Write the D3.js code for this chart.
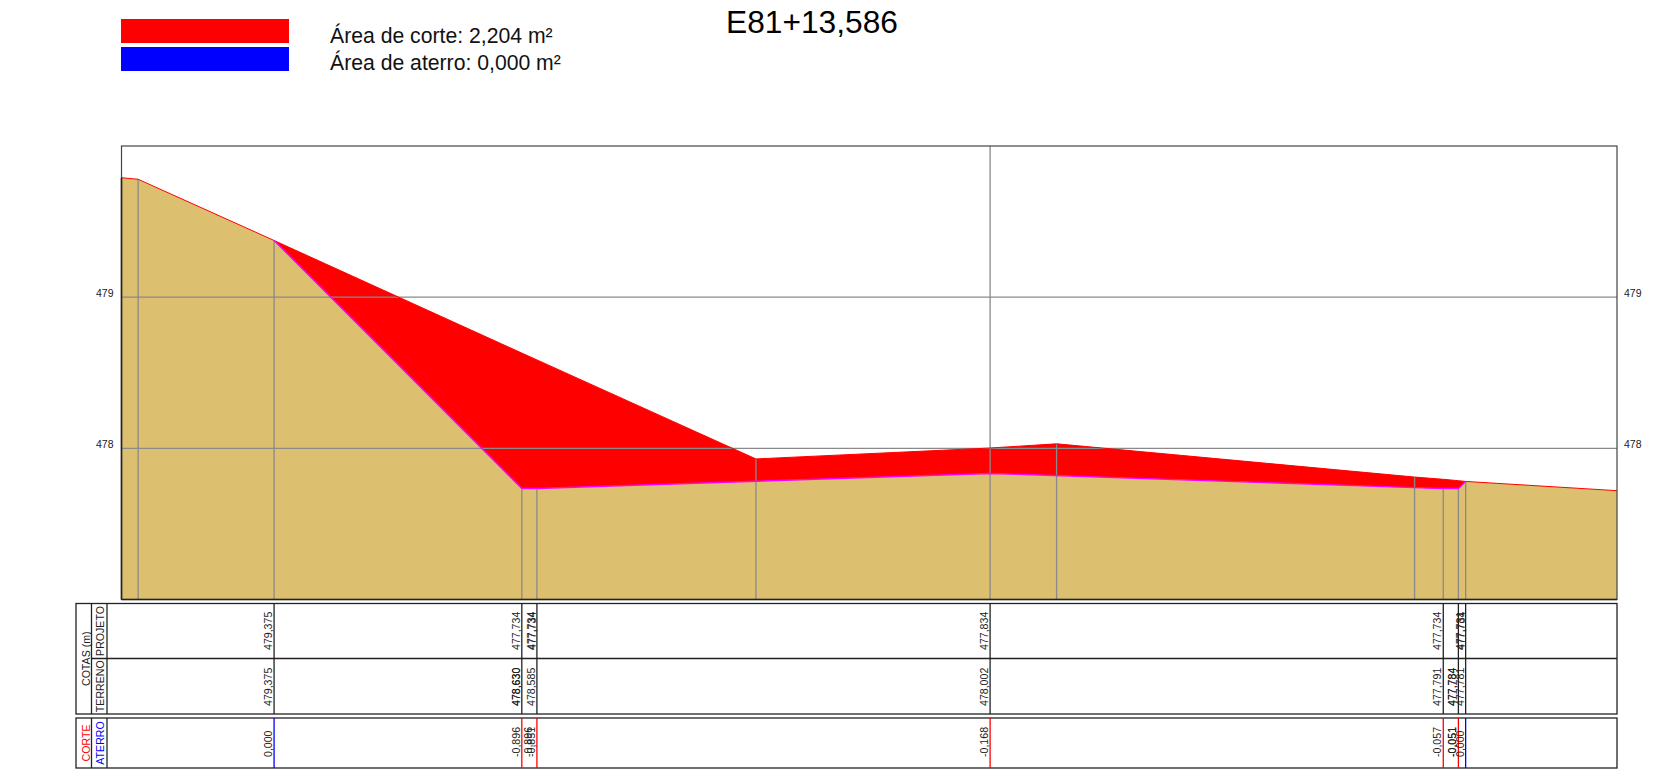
<!DOCTYPE html>
<html>
<head>
<meta charset="utf-8">
<style>
  html, body { margin: 0; background: #fff; }
  svg { display: block; }
  text { font-family: "Liberation Sans", Arial, sans-serif; }
</style>
<script src="https://cdn.jsdelivr.net/npm/d3@7"></script>
</head>
<body>
<svg id="chart"></svg>
<script>
const estaca = "E81+13,586";
const legendRows = ["Área de corte: 2,204 m²", "Área de aterro: 0,000 m²"];
const legendColors = ["#ff0000", "#0000ff"];
const yTicks = [478, 479];

// terrain and project polylines (offset m, elevation m)
const terrainX = [-5.75, -5.64, -4.74, -3.10, -3.00, -1.55, 0, 0.44, 2.81, 3.00, 3.10, 3.148, 4.15];
const terrainY = [479.79, 479.78, 479.375, 478.63, 478.585, 477.93, 478.002, 478.03, 477.81, 477.795, 477.786, 477.781, 477.72];
const projectX = [-4.74, -3.10, -3.00, 0, 2.81, 3.00, 3.10, 3.148];
const projectY = [479.375, 477.734, 477.734, 477.834, 477.74, 477.734, 477.734, 477.781];

// vertical marks in the section
const vertX = [-5.64, -4.74, -3.10, -3.00, -1.55, 0.44, 2.81, 3.00, 3.10, 3.148];
const vertTop = [479.78, 479.375, 477.734, 477.734, 477.93, 478.03, 477.81, 477.734, 477.734, 477.781];
const centerX = 0;

// table rows
const tableX = [-4.74, -3.10, -3.00, 0, 3.00, 3.10, 3.148];
const tableColors = ["#0000ff", "#ff0000", "#ff0000", "#ff0000", "#ff0000", "#ff0000", "#0000ff"];
const projetoX = [-4.74, -3.10, -3.00, -2.995, 0, 3.00, 3.148, 3.155];
const projetoLabels = ["479,375", "477,734", "477,734", "477,734", "477,834", "477,734", "477,781", "477,734"];
const terrenoX = [-4.74, -3.10, -3.10, -3.00, 0, 3.00, 3.10, 3.10, 3.148];
const terrenoLabels = ["479,375", "478,630", "478,630", "478,585", "478,002", "477,791", "477,784", "477,784", "477,781"];
const corteX = [-4.74, -3.10, -3.02, -3.00, 0, 3.00, 3.10, 3.10, 3.148];
const corteLabels = ["0,000", "-0,896", "-0,896", "-0,851", "-0,168", "-0,057", "-0,051", "-0,051", "0,000"];

const width = 1673, height = 773;
const plot = { left: 121.5, right: 1617, top: 146, bottom: 599.5 };
const box1 = { left: 76, right: 1617, top: 603.5, mid: 658.5, bottom: 714 };
const box2 = { left: 76, right: 1617, top: 718, bottom: 768 };
const col1 = 91.5, col2 = 107;
const gray = "#8a8a8a", dark = "#222";

const x = d3.scaleLinear().domain([-5.75, 4.15]).range([plot.left, plot.right]);
const y = d3.scaleLinear().domain([477, 480]).range([plot.bottom, plot.top]);

const svg = d3.select("#chart").attr("width", width).attr("height", height);
const line = d3.line().x((d) => x(d[0])).y((d) => y(d[1]));

const terrain = terrainX.map((v, i) => [v, terrainY[i]]);
const project = projectX.map((v, i) => [v, projectY[i]]);

// ground = terrain outside the cut, project inside it
const ground = [
  ...terrain.filter((d) => d[0] < projectX[0]),
  ...project,
  ...terrain.filter((d) => d[0] > projectX[projectX.length - 1]),
];
const cutTop = terrain.filter((d) => d[0] >= projectX[0] && d[0] <= projectX[projectX.length - 1]);

svg.append("path")
  .attr("d", d3.area().x((d) => x(d[0])).y0(plot.bottom).y1((d) => y(d[1]))(ground))
  .attr("fill", "#dcc06f");

svg.append("path")
  .attr("d", line([...cutTop, ...project.slice().reverse()]) + "Z")
  .attr("fill", "#ff0000");

svg.append("g")
  .selectAll("line")
  .data(vertX)
  .join("line")
  .attr("x1", (d) => x(d))
  .attr("x2", (d) => x(d))
  .attr("y1", plot.bottom)
  .attr("y2", (d, i) => y(vertTop[i]))
  .attr("stroke", gray)
  .attr("stroke-width", 1.3);

svg.append("line")
  .attr("x1", x(centerX)).attr("x2", x(centerX))
  .attr("y1", plot.top).attr("y2", plot.bottom)
  .attr("stroke", gray)
  .attr("stroke-width", 1.3);

svg.append("g")
  .selectAll("line")
  .data(yTicks)
  .join("line")
  .attr("x1", plot.left).attr("x2", plot.right)
  .attr("y1", (d) => y(d)).attr("y2", (d) => y(d))
  .attr("stroke", gray)
  .attr("stroke-width", 1.2);

svg.append("path").attr("d", line(terrain)).attr("fill", "none").attr("stroke", "#ff0000").attr("stroke-width", 1);
svg.append("path").attr("d", line(project)).attr("fill", "none").attr("stroke", "#ff00ff").attr("stroke-width", 1.4);

svg.append("rect")
  .attr("x", plot.left).attr("y", plot.top)
  .attr("width", plot.right - plot.left).attr("height", plot.bottom - plot.top)
  .attr("fill", "none").attr("stroke", "#444").attr("stroke-width", 1.2);
svg.append("line")
  .attr("x1", plot.left).attr("x2", plot.right)
  .attr("y1", plot.bottom).attr("y2", plot.bottom)
  .attr("stroke", dark).attr("stroke-width", 1.6);
svg.append("line")
  .attr("x1", plot.left).attr("x2", plot.left)
  .attr("y1", y(terrainY[0])).attr("y2", plot.bottom)
  .attr("stroke", dark).attr("stroke-width", 1.6);

// y labels both sides
const fmt = (d) => d3.format("d")(d);
[[d3.axisLeft(y), plot.left - 2], [d3.axisRight(y), plot.right + 1]].forEach(([axis, px]) => {
  const g = svg.append("g")
    .attr("transform", `translate(${px},-4.5)`)
    .call(axis.tickValues(yTicks).tickFormat(fmt).tickSize(0).tickPadding(6));
  g.select(".domain").remove();
  g.selectAll("text")
    .attr("font-family", '"Liberation Sans", Arial, sans-serif')
    .attr("font-size", 10.5)
    .attr("fill", "#222");
});

// header
svg.append("text")
  .attr("x", 812).attr("y", 33)
  .attr("text-anchor", "middle")
  .attr("font-size", 31.7)
  .attr("fill", "#000")
  .text(estaca);

svg.append("g")
  .selectAll("rect")
  .data(legendColors)
  .join("rect")
  .attr("x", 121).attr("y", (d, i) => 19 + i * 28)
  .attr("width", 168).attr("height", 24)
  .attr("fill", (d) => d);

svg.append("g")
  .selectAll("text")
  .data(legendRows)
  .join("text")
  .attr("x", 330).attr("y", (d, i) => 43 + i * 27)
  .attr("font-size", 21.2)
  .attr("fill", "#111")
  .text((d) => d);

// table frames
const frame = svg.append("g").attr("fill", "none").attr("stroke", dark).attr("stroke-width", 1.3);
[box1, box2].forEach((b) => {
  frame.append("rect")
    .attr("x", b.left).attr("y", b.top)
    .attr("width", b.right - b.left).attr("height", b.bottom - b.top);
  [col1, col2].forEach((c) => {
    frame.append("line").attr("x1", c).attr("x2", c).attr("y1", b.top).attr("y2", b.bottom);
  });
});
frame.append("line")
  .attr("x1", col1).attr("x2", box1.right)
  .attr("y1", box1.mid).attr("y2", box1.mid);

svg.append("g")
  .selectAll("line")
  .data(tableX)
  .join("line")
  .attr("x1", (d) => x(d)).attr("x2", (d) => x(d))
  .attr("y1", box1.top).attr("y2", box1.bottom)
  .attr("stroke", dark)
  .attr("stroke-width", 1.3);

svg.append("g")
  .selectAll("line")
  .data(tableX)
  .join("line")
  .attr("x1", (d) => x(d)).attr("x2", (d) => x(d))
  .attr("y1", box2.top).attr("y2", box2.bottom)
  .attr("stroke", (d, i) => tableColors[i])
  .attr("stroke-width", 1.3);

const rowHeaders = [
  ["COTAS (m)", 90, (box1.top + box1.bottom) / 2, "#222"],
  ["PROJETO", 103.5, (box1.top + box1.mid) / 2, "#222"],
  ["TERRENO", 103.5, (box1.mid + box1.bottom) / 2, "#222"],
  ["CORTE", 90, (box2.top + box2.bottom) / 2, "#ff0000"],
  ["ATERRO", 103.5, (box2.top + box2.bottom) / 2, "#0000ff"],
];
svg.append("g")
  .selectAll("text")
  .data(rowHeaders)
  .join("text")
  .attr("transform", (d) => `translate(${d[1]},${d[2]}) rotate(-90)`)
  .attr("text-anchor", "middle")
  .attr("font-size", 10.6)
  .attr("fill", (d) => d[3])
  .text((d) => d[0]);

const valueRow = (xs, labels, base) => {
  svg.append("g")
    .selectAll("text")
    .data(labels)
    .join("text")
    .attr("transform", (d, i) => `translate(${x(xs[i]) - 2},${base}) rotate(-90)`)
    .attr("font-size", 10.6)
    .attr("fill", "#222")
    .text((d) => d);
};
valueRow(projetoX, projetoLabels, 650);
valueRow(terrenoX, terrenoLabels, 706);
valueRow(corteX, corteLabels, 757);
</script>
</body>
</html>
